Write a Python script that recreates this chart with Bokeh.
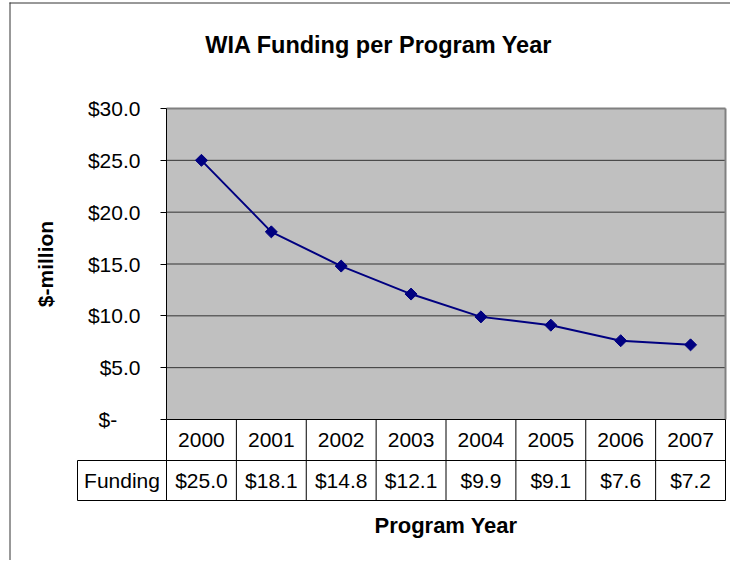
import numpy as np
from bokeh.plotting import figure
from bokeh.models import Range1d, FixedTicker, NumeralTickFormatter
from bokeh.embed import file_html
from bokeh.resources import INLINE
from bokeh.core.properties import value

# ---------------- data ----------------
years = ["2000", "2001", "2002", "2003", "2004", "2005", "2006", "2007"]
funding = [25.0, 18.1, 14.8, 12.1, 9.9, 9.1, 7.6, 7.2]
y_ticks = [0, 5, 10, 15, 20, 25, 30]
series_name = "Funding"
title_text = "WIA Funding per Program Year"
y_label = "$-million"
x_label = "Program Year"

funding_labels = ["${:.1f}".format(v) for v in funding]

# ---------------- layout (canvas pixels) ----------------
FONT = "Liberation Sans"
NAVY = "#000080"
W, H = 730, 560
PLOT_L, PLOT_R = 166, 725          # plot area
PLOT_T, PLOT_B = 108, 419
TABLE_L = 77
ROW1, ROW2 = 460, 500              # table row bottoms
n = len(years)
UNIT = (PLOT_R - PLOT_L) / n
YPX = (PLOT_B - PLOT_T) / (y_ticks[-1] - y_ticks[0])

p = figure(width=W, height=H,
           x_range=Range1d(-PLOT_L / UNIT, (W - PLOT_L) / UNIT),
           y_range=Range1d(y_ticks[0] - (H - PLOT_B) / YPX, y_ticks[0] + PLOT_B / YPX),
           output_backend="svg", toolbar_location=None, min_border=0)
p.extra_x_ranges = {"px": Range1d(0, W)}
p.extra_y_ranges = {"px": Range1d(H, 0)}
p.background_fill_color = "white"
p.border_fill_color = "white"
p.outline_line_color = None
p.xaxis.visible = False
p.grid.visible = False

xs = np.arange(n) + 0.5
cols = list(np.arange(n + 1))
lbl_l = (TABLE_L - PLOT_L) / UNIT

# outer chart border (left / top)
p.segment(x0=[9.5, 9], y0=[2, 2.5], x1=[9.5, W], y1=[H, 2.5],
          x_range_name="px", y_range_name="px", line_color="#333333", line_width=1)

# plot area
p.quad(left=[0], right=[n], bottom=[y_ticks[0]], top=[y_ticks[-1]],
       fill_color="#C0C0C0", line_color=None)
p.segment(x0=[0] * (len(y_ticks) - 2), x1=[n] * (len(y_ticks) - 2),
          y0=y_ticks[1:-1], y1=y_ticks[1:-1], line_color="#333333", line_width=1)
p.segment(x0=[0, n], y0=[y_ticks[-1], y_ticks[0]], x1=[n, n], y1=[y_ticks[-1], y_ticks[-1]],
          line_color="#808080", line_width=2)

# y axis on the plot-area edge
ya = p.yaxis[0]
ya.fixed_location = 0
ya.bounds = (y_ticks[0], y_ticks[-1])
ya.ticker = FixedTicker(ticks=y_ticks)
ya.formatter = NumeralTickFormatter(format="$0.0")
ya.major_label_overrides = {0: "$-" + "\u00a0" * 4}
ya.major_tick_out = 6
ya.major_tick_in = 0
ya.minor_tick_out = 0
ya.minor_tick_in = 0
ya.axis_line_color = "black"
ya.major_tick_line_color = "black"
ya.major_label_text_font = FONT
ya.major_label_text_font_size = "21px"
ya.major_label_text_color = "black"
ya.major_label_standoff = 20
ya.axis_label = y_label
ya.axis_label_text_font = FONT
ya.axis_label_text_font_size = "21px"
ya.axis_label_text_font_style = "bold"
ya.axis_label_text_color = "black"
ya.axis_label_standoff = 28

# series
p.line(x=xs, y=funding, line_color=NAVY, line_width=2)
p.scatter(x=xs, y=funding, marker="square", size=8.5, angle=np.pi / 4,
          fill_color=NAVY, line_color=NAVY)

# title
p.text(x=[378.5], y=[44], text=[title_text], x_range_name="px", y_range_name="px",
       text_font=value(FONT), text_font_size="23.5px", text_font_style="bold",
       text_align="center", text_baseline="alphabetic", text_color="black")

# data table
p.segment(x0=[0], y0=[PLOT_B], x1=[n], y1=[PLOT_B], y_range_name="px",
          line_color="black", line_width=1)
p.segment(x0=[lbl_l, lbl_l], y0=[ROW1, ROW2], x1=[n, n], y1=[ROW1, ROW2], y_range_name="px",
          line_color="black", line_width=1)
p.segment(x0=cols, y0=[PLOT_B] * (n + 1), x1=cols, y1=[ROW2] * (n + 1), y_range_name="px",
          line_color="black", line_width=1)
p.segment(x0=[lbl_l], y0=[ROW1], x1=[lbl_l], y1=[ROW2], y_range_name="px",
          line_color="black", line_width=1)

r1 = (PLOT_B + ROW1) / 2
r2 = (ROW1 + ROW2) / 2
p.text(x=xs, y=[r1] * n, text=years, y_range_name="px", text_font=value(FONT),
       text_font_size="21px", text_align="center", text_baseline="middle", text_color="black")
p.text(x=xs, y=[r2] * n, text=funding_labels, y_range_name="px", text_font=value(FONT),
       text_font_size="21px", text_align="center", text_baseline="middle", text_color="black")
p.text(x=[lbl_l / 2], y=[r2], text=[series_name], y_range_name="px", text_font=value(FONT),
       text_font_size="21px", text_align="center", text_baseline="middle", text_color="black")
p.text(x=[n / 2], y=[524.5], text=[x_label], y_range_name="px", text_font=value(FONT),
       text_font_size="22px", text_font_style="bold",
       text_align="center", text_baseline="middle", text_color="black")

open("out.html", "w").write(file_html(p, INLINE))
